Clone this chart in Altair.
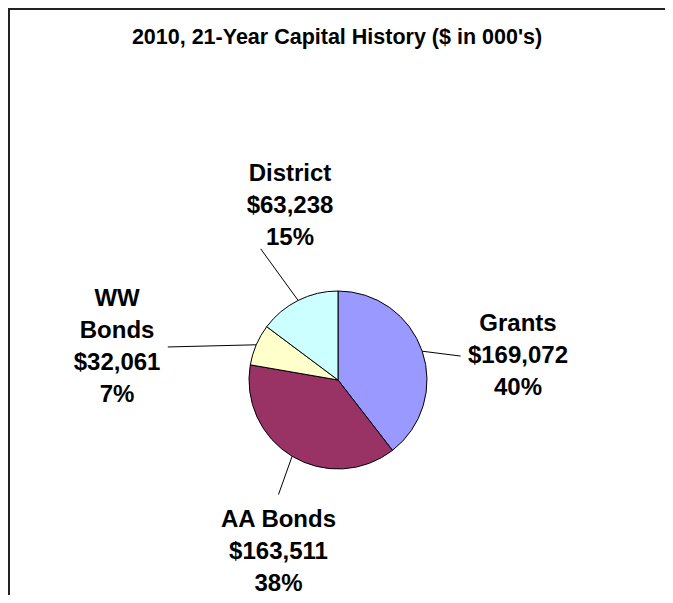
import math
import altair as alt
import pandas as pd

# ---- data ----
categories = ["Grants", "AA Bonds", "WW Bonds", "District"]
label_names = ["Grants", "AA Bonds", "WW\nBonds", "District"]
values = [169072, 163511, 32061, 63238]
colors = ["#9999FF", "#993366", "#FFFFCC", "#CCFFFF"]
title_text = "2010, 21-Year Capital History ($ in 000's)"

# ---- layout (not data) ----
W, H = 657, 587          # view size
CX, CY = 330, 372        # pie centre inside the view (px)
R = 89                   # pie radius (px)
FONT = "Arial, Liberation Sans, sans-serif"
FS = 24
LH = 32
label_angle_shift = [11.3, -11.9, -14.8, 11.2]   # degrees, relative to slice mid-angle
label_dist = [2.04, 2.04, 2.51, 2.03]             # in pie radii

total = sum(values)
rows = []
cum = 0.0
for i, (c, n, v) in enumerate(zip(categories, label_names, values)):
    start = cum / total * 360
    cum += v
    end = cum / total * 360
    mid = (start + end) / 2
    pct = round(v / total * 100)
    text = f"{n}\n${v:,}\n{pct}%"
    lines = text.split("\n")
    # leader start on the pie edge at slice mid-angle
    sx, sy = math.sin(math.radians(mid)), math.cos(math.radians(mid))
    la = math.radians(mid + label_angle_shift[i])
    lx, ly = label_dist[i] * math.sin(la), label_dist[i] * math.cos(la)
    hw = max(len(s) for s in lines) * 0.556 * FS / 2 / R
    hh = len(lines) * LH / 2 / R
    vx, vy = sx - lx, sy - ly
    if abs(vx) / hw > abs(vy) / hh:
        # label beside the pie: join the middle of its near side
        ex, ey = lx + math.copysign(hw + 4 / R, vx), ly
    elif vy < 0:
        # label above the pie: join near its lower-left corner
        ex, ey = lx - 0.55 * hw, ly - (hh - 5 / R)
    else:
        # label below the pie: join the middle of its top side
        ex, ey = lx, ly + hh + 9 / R
    # text anchor = centre of the first line of the block
    ty = ly + (len(lines) - 1) / 2 * LH / R
    rows.append(dict(cat=c, idx=i, value=v, label=text, sx=sx, sy=sy,
                     lx=lx, ty=ty, ex=ex, ey=ey))

df = pd.DataFrame(rows)

xs = alt.Scale(domain=[-CX / R, (W - CX) / R])
ys = alt.Scale(domain=[-(H - CY) / R, CY / R])

base = alt.Chart(df)

pie = base.mark_arc(outerRadius=R, stroke="black", strokeWidth=1).encode(
    x=alt.X(datum=0, scale=xs, axis=None),
    y=alt.Y(datum=0, scale=ys, axis=None),
    theta=alt.Theta("value:Q", stack=True),
    order=alt.Order("idx:Q"),
    color=alt.Color("cat:N", scale=alt.Scale(domain=categories, range=colors), legend=None),
)

leaders = base.mark_rule(color="black", strokeWidth=1).encode(
    x=alt.X("sx:Q", scale=xs, axis=None),
    y=alt.Y("sy:Q", scale=ys, axis=None),
    x2="ex:Q",
    y2="ey:Q",
)

labels = base.mark_text(
    align="center", baseline="middle", lineBreak="\n", lineHeight=LH,
    font=FONT, fontSize=FS, fontWeight="bold", color="black",
).encode(
    x=alt.X("lx:Q", scale=xs, axis=None),
    y=alt.Y("ty:Q", scale=ys, axis=None),
    text="label:N",
)

title = alt.Chart(alt.Data(values=[{"t": title_text}])).mark_text(
    align="center", baseline="middle", font=FONT, fontSize=21.5, fontWeight="bold", color="black",
).encode(x=alt.value(329), y=alt.value(30), text="t:N")

frame_top = alt.Chart(alt.Data(values=[{}])).mark_rule(color="#222", strokeWidth=2, strokeCap="butt").encode(
    x=alt.value(0), x2=alt.value(W), y=alt.value(1)
)
frame_left = alt.Chart(alt.Data(values=[{}])).mark_rule(color="#222", strokeWidth=2, strokeCap="butt").encode(
    x=alt.value(1), y=alt.value(0), y2=alt.value(H)
)

chart = alt.layer(frame_top, frame_left, pie, leaders, labels, title).properties(
    width=W, height=H, padding=0, autosize=alt.AutoSizeParams(type="none"),
    background="white",
).configure_view(stroke=None)

chart.save("out.html", embed_options={"renderer": "svg", "actions": False})
